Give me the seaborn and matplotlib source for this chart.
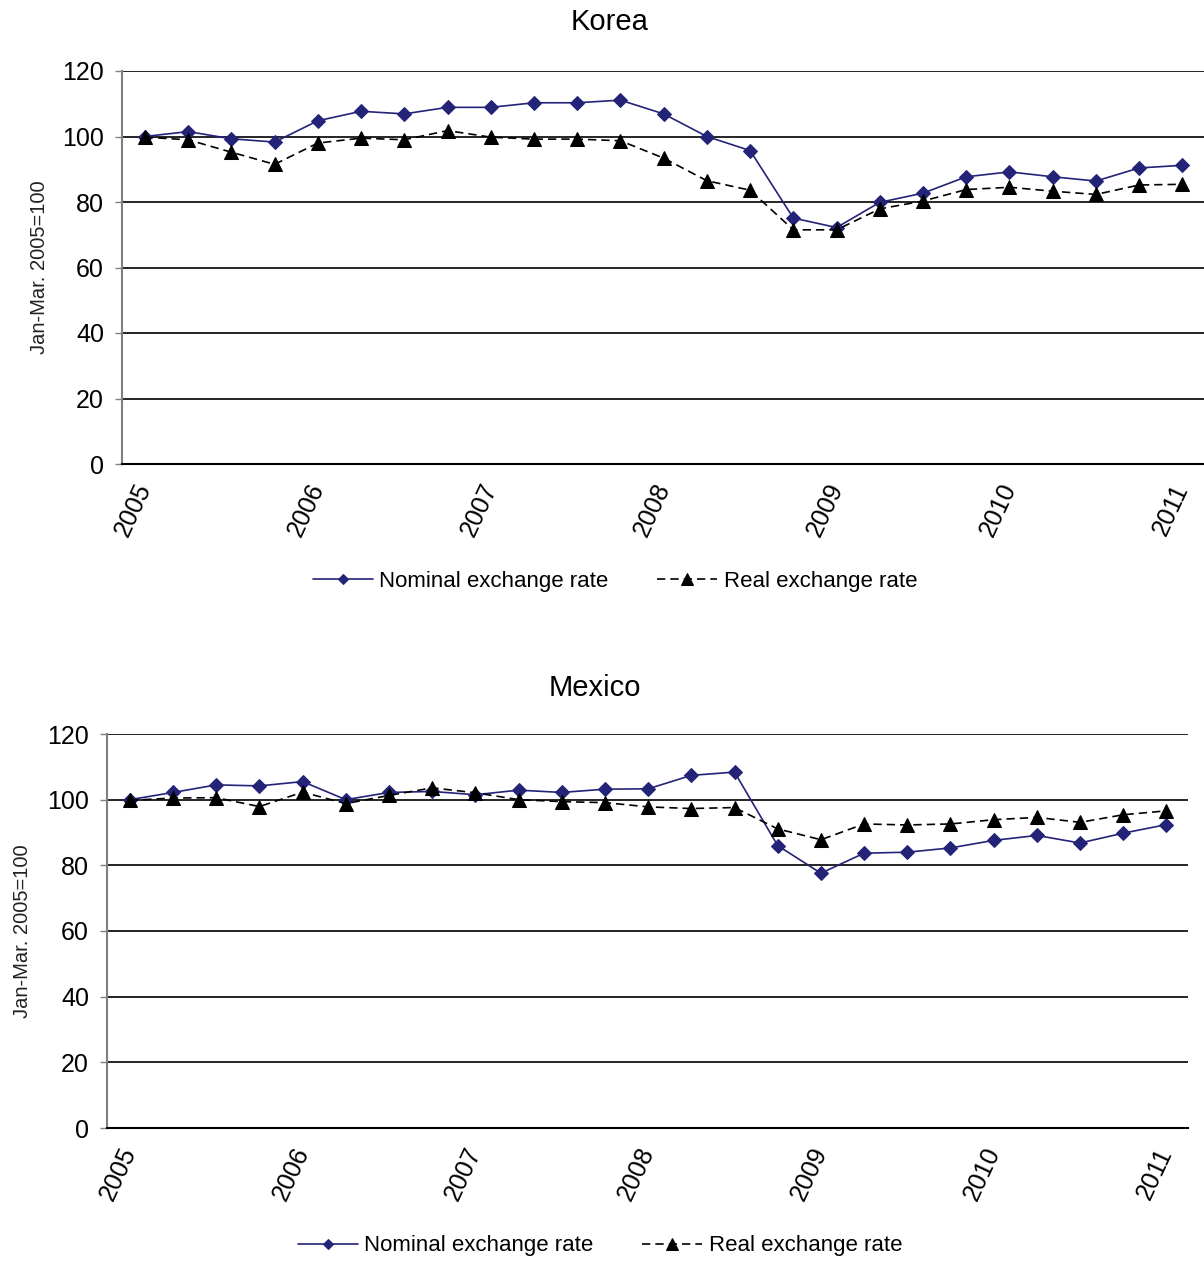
import matplotlib
matplotlib.use("Agg")
import matplotlib.pyplot as plt
import numpy as np
import pandas as pd
import seaborn as sns

# Quarterly observations, Q1 2005 through Q1 2011 (index, Jan-Mar 2005 = 100)
quarters = list(range(25))
year_labels = ["2005", "2006", "2007", "2008", "2009", "2010", "2011"]
year_positions = [0, 4, 8, 12, 16, 20, 24]

korea_nominal = [100.0, 101.5, 99.3, 98.3, 104.8, 107.7, 106.9, 108.9, 108.9, 110.3,
                 110.3, 111.1, 106.9, 100.0, 95.7, 75.1, 72.2, 79.9, 82.7, 87.7,
                 89.2, 87.7, 86.4, 90.4, 91.2]
korea_real = [99.8, 99.0, 95.2, 91.5, 98.0, 99.5, 99.0, 101.8, 99.8, 99.2,
              99.2, 98.7, 93.4, 86.5, 83.6, 71.5, 71.5, 77.9, 80.3, 83.8,
              84.5, 83.3, 82.3, 85.2, 85.4]

mexico_nominal = [100.0, 102.2, 104.5, 104.2, 105.5, 100.0, 102.2, 102.5, 101.5, 102.9,
                  102.2, 103.2, 103.3, 107.4, 108.4, 86.0, 77.6, 83.7, 84.0, 85.3,
                  87.6, 89.1, 86.8, 89.8, 92.4]
mexico_real = [99.8, 100.5, 100.6, 97.9, 102.3, 98.8, 101.3, 103.6, 102.1, 100.0,
               99.4, 99.1, 97.8, 97.3, 97.6, 91.1, 87.8, 92.6, 92.3, 92.6,
               93.9, 94.6, 93.1, 95.4, 96.6]

series_names = ["Nominal exchange rate", "Real exchange rate"]

sns.set_style("white")
plt.rcParams["font.family"] = ["Liberation Sans", "DejaVu Sans"]
plt.rcParams["text.color"] = "black"
plt.rcParams["xtick.color"] = "black"
plt.rcParams["ytick.color"] = "black"

NAVY = "#232378"
DPI = 100
fig = plt.figure(figsize=(1204 / DPI, 1263 / DPI), dpi=DPI)


def draw_panel(rect, nominal, real, title, title_xy, ylabel_x, legend_xy):
    ax = fig.add_axes(rect)
    df = pd.DataFrame({
        "quarter": quarters * 2,
        "value": nominal + real,
        "series": [series_names[0]] * len(nominal) + [series_names[1]] * len(real),
    })
    nom = df[df["series"] == series_names[0]]
    rea = df[df["series"] == series_names[1]]
    sns.lineplot(data=nom, x="quarter", y="value", ax=ax, color=NAVY,
                 marker="D", markersize=7, markeredgecolor=NAVY,
                 linewidth=1.2, label=series_names[0])
    sns.lineplot(data=rea, x="quarter", y="value", ax=ax, color="black",
                 marker="^", markersize=10, markeredgecolor="black",
                 linewidth=1.2, linestyle=(0, (5, 3)), label=series_names[1])

    ax.set_ylim(0, 120)
    ax.set_yticks(np.arange(0, 121, 20))
    ax.set_xlim(-0.53, 24.5)
    ax.set_xticks(year_positions)
    ax.set_xticklabels(year_labels, rotation=65, ha="right", va="center",
                       rotation_mode="anchor", fontsize=18)
    ax.tick_params(axis="x", length=0, pad=15)
    ax.tick_params(axis="y", labelsize=18, length=5, width=1, color="#808080",
                   labelcolor="black", direction="out", left=True, pad=8)
    ax.grid(axis="y", color="black", linewidth=1.2)
    ax.grid(axis="x", visible=False)
    ax.set_axisbelow(True)
    for side in ["top", "right"]:
        ax.spines[side].set_visible(False)
    ax.spines["bottom"].set_color("black")
    ax.spines["bottom"].set_linewidth(1.5)
    ax.spines["left"].set_color("#808080")
    ax.spines["left"].set_linewidth(1.5)
    ax.set_xlabel("")
    ax.set_ylabel("")

    fig.text(title_xy[0], title_xy[1], title, ha="center", va="center", fontsize=21)
    ymid = rect[1] + rect[3] * 0.5
    fig.text(ylabel_x, ymid, "Jan-Mar. 2005=100", rotation=90, ha="center",
             va="center", fontsize=14.5, color="#222222")

    handles, labels = ax.get_legend_handles_labels()
    ax.legend(handles, labels, loc="center", bbox_to_anchor=legend_xy,
              bbox_transform=fig.transFigure, ncol=2, frameon=False,
              fontsize=16, handlelength=2.7, columnspacing=2.2,
              handletextpad=0.3, markerscale=0.8)
    return ax


H = 1263
W = 1204
draw_panel([122 / W, 1 - 464 / H, 1 - 122 / W, (464 - 71) / H],
           korea_nominal, korea_real, "Korea", (610 / W, 1 - 22 / H),
           40 / W, (615 / W, 1 - 581 / H))
draw_panel([107 / W, 1 - 1128 / H, (1188 - 107) / W, (1128 - 734) / H],
           mexico_nominal, mexico_real, "Mexico", (595 / W, 1 - 688 / H),
           22 / W, (600 / W, 1 - 1246 / H))

fig.savefig("out.png", dpi=DPI)
